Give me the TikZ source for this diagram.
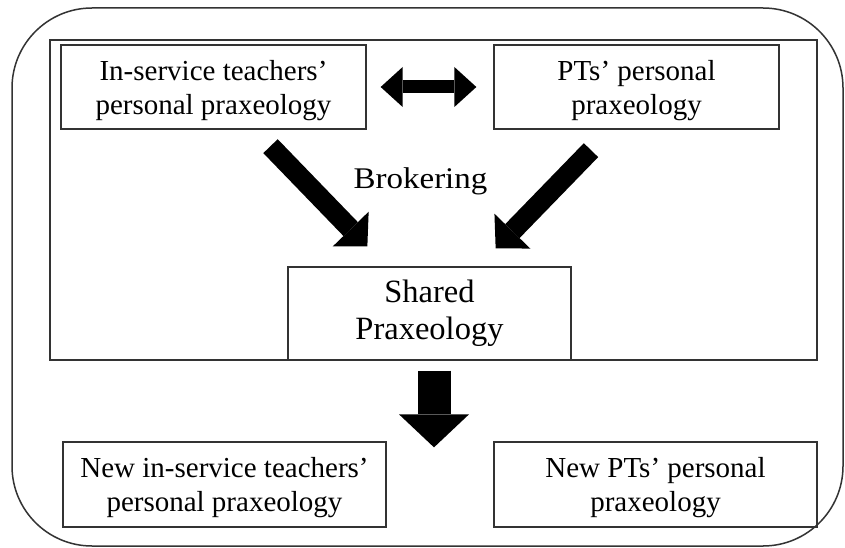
\documentclass[tikz,border=0pt]{standalone}
\usepackage{fontspec}
\usepackage{graphicx}
\setmainfont{Liberation Serif}
\usetikzlibrary{arrows.meta}
\newcommand{\upstrut}{\rule{0pt}{27pt}}
\tikzset{
  box/.style={draw=black!80, line width=1.3pt, rectangle, inner sep=0pt, align=center,
    font=\fontsize{29}{34}\selectfont, text=black},
  fatdiag/.style={line width=20pt, draw=black, -{Triangle[length=24pt,width=50pt,line width=0pt]}},
  fatdown/.style={line width=33pt, draw=black, -{Triangle[length=33pt,width=70pt,line width=0pt]}},
  fatboth/.style={line width=13pt, draw=black, {Triangle[length=22pt,width=40pt,line width=0pt]}-{Triangle[length=22pt,width=40pt,line width=0pt]}},
}
\begin{document}
\begin{tikzpicture}[x=1pt,y=-1pt]
\useasboundingbox (0,0) rectangle (845,548);
\fill[white] (0,0) rectangle (845,548);
% outer rounded frame
\draw[black!80, line width=1.5pt, rounded corners=80pt] (12,8) rectangle (843,546);
% inner frame
\draw[black!80, line width=1.5pt] (50,40) rectangle (817,360);
% boxes
\node[box, minimum width=305pt, minimum height=84pt] (b1) at (213.5,87) {\upstrut In-service teachers'\\personal praxeology};
\node[box, minimum width=285pt, minimum height=84pt] (b2) at (636.5,87) {\upstrut PTs' personal\\praxeology};
\node[box, minimum width=283pt, minimum height=93pt, font=\fontsize{32.5}{37}\selectfont] (sh) at (429.5,313.5) {Shared\\Praxeology};
\node[box, minimum width=323pt, minimum height=85pt] (n1) at (224.5,484.5) {\upstrut New in-service teachers'\\personal praxeology};
\node[box, minimum width=323pt, minimum height=85pt] (n2) at (655.5,484.5) {\upstrut New PTs' personal\\praxeology};
\node[font=\fontsize{30}{36}\selectfont, anchor=base, inner sep=0pt] (brk) at (420.5,188) {\scalebox{1.1}[1]{Brokering}};
% arrows
\draw[fatboth] ([shift={(14,0)}]b1.east) -- ([shift={(-17,0)}]b2.west);
\draw[fatdiag] ([shift={(57,16.5)}]b1.south) -- ([shift={(80,-20)}]sh.north west);
\draw[fatdiag] ([shift={(-45.5,20.5)}]b2.south) -- ([shift={(-76,-18)}]sh.north east);
\draw[fatdown] ([shift={(4.5,10)}]sh.south) -- ([shift={(4.5,6)}]sh.south |- n1.north);
\end{tikzpicture}
\end{document}
